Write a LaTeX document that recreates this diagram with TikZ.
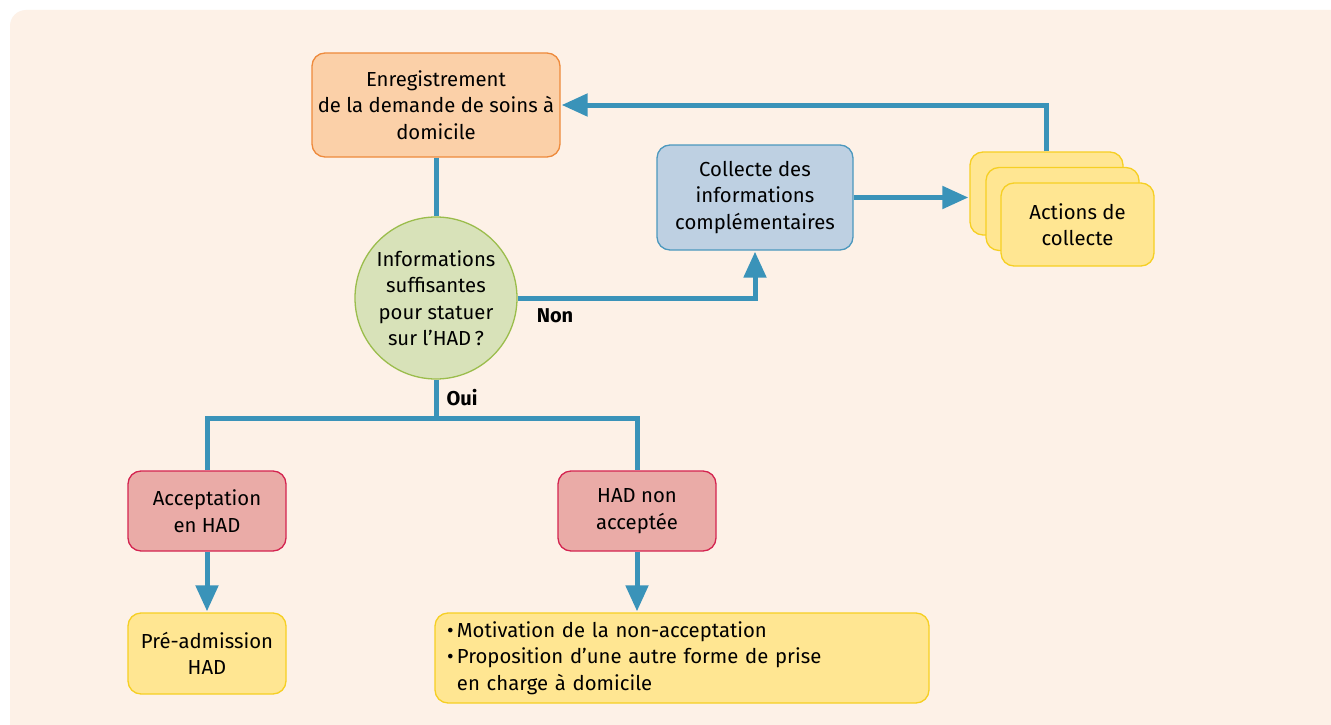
\documentclass[tikz,border=0pt]{standalone}
\usepackage{fontspec}
\setmainfont{Fira Sans}
\usetikzlibrary{arrows.meta}
\definecolor{bgc}{HTML}{FDF1E7}
\definecolor{linec}{HTML}{3A93B9}
\definecolor{orf}{HTML}{FBD0A8}
\definecolor{ord}{HTML}{EE8A3C}
\definecolor{grf}{HTML}{D8E2B9}
\definecolor{grd}{HTML}{9BBD4C}
\definecolor{blf}{HTML}{BED0E2}
\definecolor{bld}{HTML}{4C98BE}
\definecolor{yef}{HTML}{FFE692}
\definecolor{yed}{HTML}{F6CF23}
\definecolor{rdf}{HTML}{EAABA7}
\definecolor{rdd}{HTML}{D42450}
\tikzset{
  box/.style={draw, line width=1.3pt, rounded corners=13pt, inner sep=0pt, align=center,
    font=\fontsize{20.3}{26.5}\selectfont},
  orbox/.style={box, fill=orf, draw=ord},
  blbox/.style={box, fill=blf, draw=bld},
  yebox/.style={box, fill=yef, draw=yed},
  rebox/.style={box, fill=rdf, draw=rdd},
  conn/.style={draw=linec, line width=5pt, line join=miter},
  arr/.style={conn, -{Triangle[length=26pt,width=22pt]}, shorten >=1pt},
  lbl/.style={font=\fontsize{20}{24}\selectfont\bfseries}
}
\begin{document}
\begin{tikzpicture}[x=1pt,y=-1pt]
\useasboundingbox (0,0) rectangle (1331,725);
\fill[white] (0,0) rectangle (1331,725);
\fill[bgc, rounded corners=16pt] (10,10) rectangle (1360,760);
\node[orbox, minimum width=248pt, minimum height=104pt] (enr) at (436,105)
  {Enregistrement\\de la demande de soins à\\domicile};
\node[box, circle, fill=grf, draw=grd, minimum size=162pt] (circ) at (436,298)
  {Informations\\suffisantes\\pour statuer\\sur l’HAD\,?};
\node[blbox, minimum width=196pt, minimum height=105pt] (coll) at (755,197.5)
  {Collecte des\\informations\\complémentaires};
\node[yebox, minimum width=153pt, minimum height=83pt] (s1) at (1046.5,193.5) {};
\node[yebox, minimum width=153pt, minimum height=83pt] (s2) at (1062.5,209) {};
\node[yebox, minimum width=153pt, minimum height=83pt] (s3) at (1077.5,224.5) {Actions de\\collecte};
\node[rebox, minimum width=158pt, minimum height=80pt] (acc) at (207,511) {Acceptation\\en HAD};
\node[rebox, minimum width=158pt, minimum height=80pt] (non) at (637,511) {HAD non\\acceptée};
\node[yebox, minimum width=158pt, minimum height=81pt] (pre) at (207,653.5) {Pré-admission\\HAD};
\node[yebox, minimum width=494pt, minimum height=90pt, align=left, text width=470pt] (bul) at (682,658)
  {•\,Motivation de la non-acceptation\\•\,Proposition d’une autre forme de prise\\\hphantom{•\,}en charge à domicile};
\node[lbl] (lnon) at (555,316) {Non};
\node[lbl] (loui) at (462,398) {Oui};
\coordinate (br) at (436,418);
\draw[conn] (enr.south) -- (circ.north);
\draw[arr] (circ.east) -| (coll.south);
\draw[arr] (coll.east) -- (coll.east -| s1.west);
\draw[arr] (s1.north) |- (enr.east);
\draw[conn] (circ.south) -- (br);
\draw[conn] (acc.north) |- (br) -| (non.north);
\draw[arr] (acc.south) -- (pre.north);
\draw[arr] (non.south) -- (non.south |- bul.north);
\end{tikzpicture}
\end{document}
